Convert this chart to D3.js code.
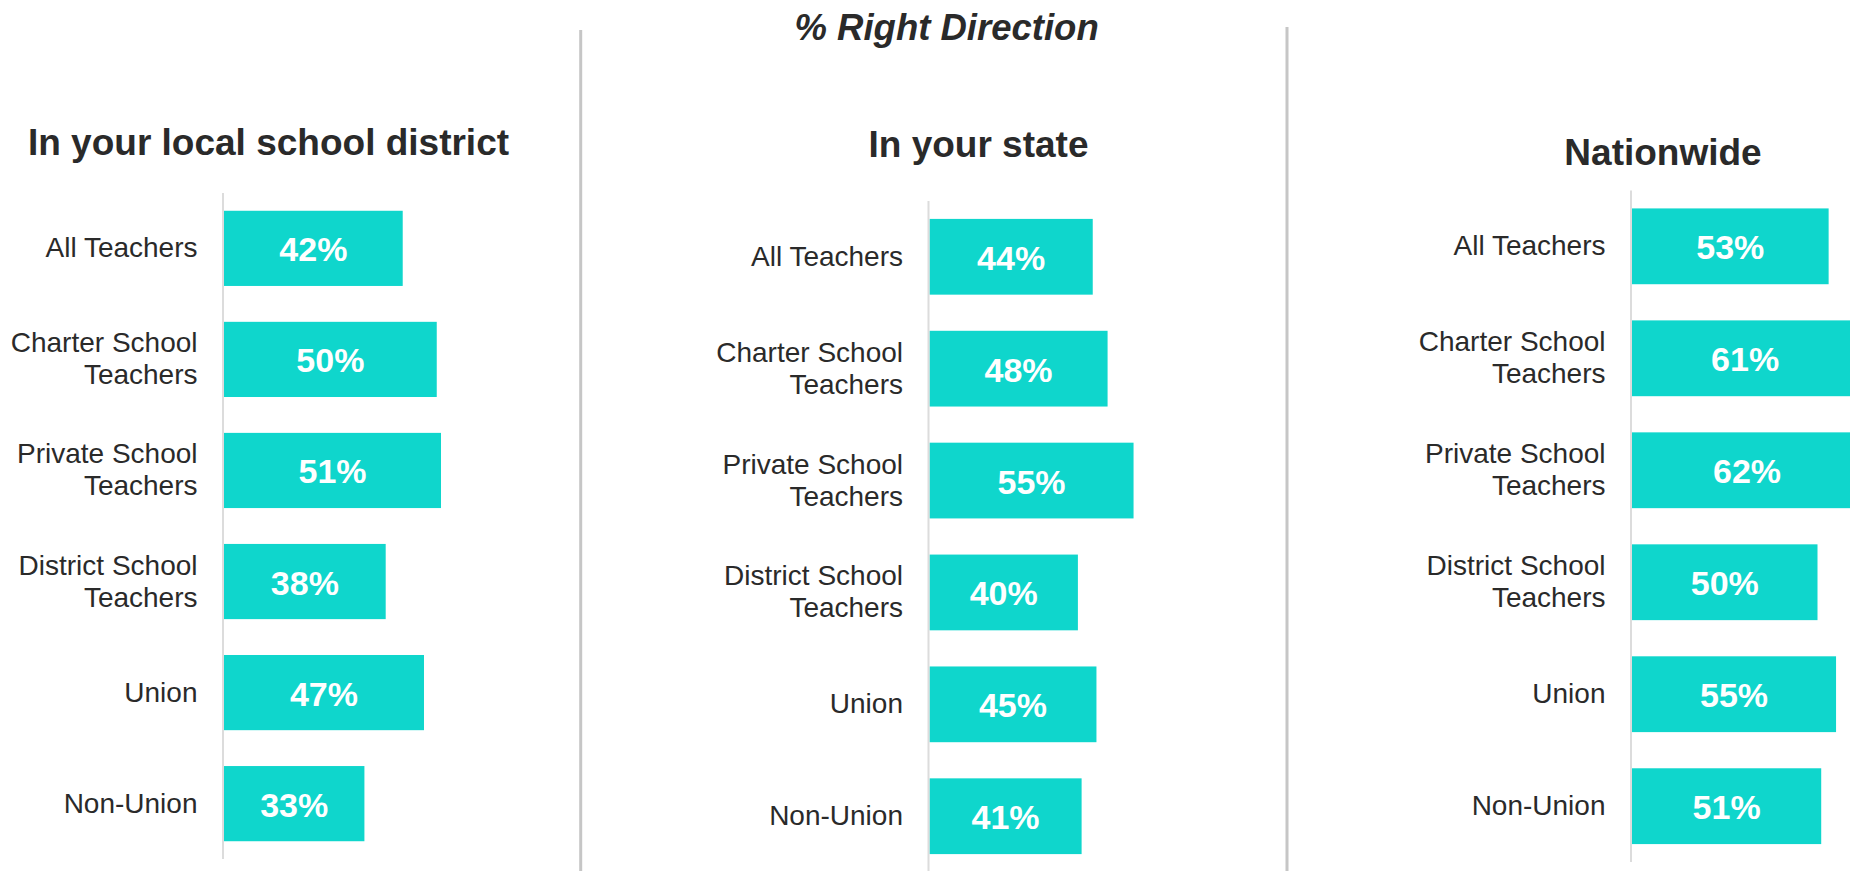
<!DOCTYPE html>
<html>
<head>
<meta charset="utf-8">
<script src="https://cdn.jsdelivr.net/npm/d3@7"></script>
<style>
  html, body { margin: 0; padding: 0; background: #fff; }
  svg { display: block; font-family: "Liberation Sans", Arial, Helvetica, sans-serif; }
</style>
</head>
<body>
<svg id="chart" width="1850" height="871"></svg>
<script>
// ---- data ----
const categories = [
  "All Teachers",
  "Charter School Teachers",
  "Private School Teachers",
  "District School Teachers",
  "Union",
  "Non-Union"
];
const localValues  = [42, 50, 51, 38, 47, 33];
const stateValues  = [44, 48, 55, 40, 45, 41];
const nationValues = [53, 61, 62, 50, 55, 51];
const panelTitles  = ["In your local school district", "In your state", "Nationwide"];
const chartTitle   = "% Right Direction";

// ---- layout ----
const W = 1850, H = 871;
const barColor = "#0fd6cc";
const textColor = "#2a2a2a";
const axisColor = "#dcdcdc";
const dividerColor = "#c6c6c6";

const panels = [
  { title: panelTitles[0], values: localValues,  axisX: 223,    pxPerPoint: 4.255, yRange: [193, 859],   titleX: 268.5, titleY: 155 },
  { title: panelTitles[1], values: stateValues,  axisX: 928.5,  pxPerPoint: 3.71,  yRange: [201, 872],   titleX: 978.5, titleY: 157 },
  { title: panelTitles[2], values: nationValues, axisX: 1631,   pxPerPoint: 3.71,  yRange: [190.5, 862], titleX: 1663,  titleY: 165 }
];
const dividers = [ { x: 580.7, top: 30 }, { x: 1287, top: 27 } ];

const svg = d3.select("#chart");
svg.append("rect").attr("width", W).attr("height", H).attr("fill", "#fff");

// overall heading
svg.append("text")
  .attr("x", 946.6).attr("y", 40)
  .attr("text-anchor", "middle")
  .attr("font-size", 36.5).attr("font-weight", "bold").attr("font-style", "italic")
  .attr("fill", textColor)
  .text(chartTitle);

// vertical separators between panels
svg.selectAll("line.divider").data(dividers).join("line")
  .attr("class", "divider")
  .attr("x1", d => d.x).attr("x2", d => d.x)
  .attr("y1", d => d.top).attr("y2", H)
  .attr("stroke", dividerColor).attr("stroke-width", 3);

// wrap a category label into lines no wider than maxW
function wrapLines(label, maxW, fontSize) {
  const probe = svg.append("text").attr("font-size", fontSize).attr("visibility", "hidden");
  const words = label.split(" ");
  const lines = [];
  let cur = "";
  words.forEach(w => {
    const test = cur ? cur + " " + w : w;
    probe.text(test);
    if (cur && probe.node().getComputedTextLength() > maxW) {
      lines.push(cur);
      cur = w;
    } else {
      cur = test;
    }
  });
  if (cur) lines.push(cur);
  probe.remove();
  return lines;
}

const catFont = 28, valFont = 34, lineGap = 32;

panels.forEach(p => {
  const g = svg.append("g");

  const x = d3.scaleLinear().domain([0, 100]).range([p.axisX + 1, p.axisX + 1 + p.pxPerPoint * 100]);
  const y = d3.scaleBand().domain(categories).range(p.yRange).paddingInner(0.323).paddingOuter(0.16);

  // panel title
  g.append("text")
    .attr("x", p.titleX).attr("y", p.titleY)
    .attr("text-anchor", "middle")
    .attr("font-size", 37).attr("font-weight", "bold")
    .attr("fill", textColor)
    .text(p.title);

  // bars
  g.selectAll("rect.bar").data(categories).join("rect")
    .attr("class", "bar")
    .attr("x", x(0))
    .attr("y", d => y(d))
    .attr("width", (d, i) => x(p.values[i]) - x(0))
    .attr("height", y.bandwidth())
    .attr("fill", barColor);

  // category axis line
  g.append("line")
    .attr("x1", p.axisX).attr("x2", p.axisX)
    .attr("y1", p.yRange[0]).attr("y2", p.yRange[1])
    .attr("stroke", axisColor).attr("stroke-width", 2);

  // category labels
  categories.forEach(c => {
    const lines = wrapLines(c, 215, catFont);
    const cy = y(c) + y.bandwidth() / 2;
    const t = g.append("text")
      .attr("text-anchor", "end")
      .attr("font-size", catFont)
      .attr("fill", textColor);
    lines.forEach((ln, k) => {
      t.append("tspan")
        .attr("x", p.axisX - 25.5)
        .attr("y", cy + 9 + (k - (lines.length - 1) / 2) * lineGap)
        .text(ln);
    });
  });

  // value labels centred in each bar
  g.selectAll("text.val").data(categories).join("text")
    .attr("class", "val")
    .attr("x", (d, i) => (x(0) + x(p.values[i])) / 2)
    .attr("y", d => y(d) + y.bandwidth() / 2 + 13)
    .attr("text-anchor", "middle")
    .attr("font-size", valFont).attr("font-weight", "bold")
    .attr("fill", "#ffffff")
    .text((d, i) => p.values[i] + "%");
});
</script>
</body>
</html>
